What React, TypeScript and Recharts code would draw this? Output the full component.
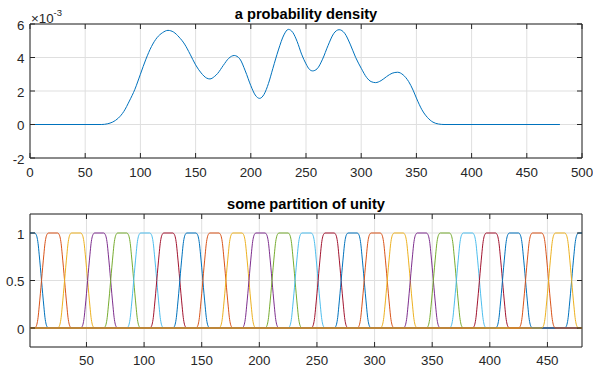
import React from 'react';
import { LineChart, Line, XAxis, YAxis, CartesianGrid, ReferenceArea } from 'recharts';

const FONT = '"Liberation Sans", Arial, Helvetica, sans-serif';
const AXIS = '#262626';
const GRID = '#dfdfdf';

// top panel: density, values in units of 1e-3
const densityX = [
  1, 65, 70, 75, 80, 85, 90, 95, 100, 105, 110, 115, 120, 125, 130, 135, 140, 145, 150,
  155, 160, 163, 167, 170, 175, 180, 185, 190, 195, 200, 204, 208, 212, 216, 220, 225, 230, 234,
  238, 242, 246, 250, 253, 256, 260, 265, 270, 275, 280, 285, 290, 295, 300, 305, 309, 313, 318,
  323, 328, 333, 338, 343, 347, 350, 355, 360, 365, 370, 375, 480,
];
const densityY = [
  0, 0, 0.04, 0.15, 0.38, 0.78, 1.4, 2.1, 3.0, 3.9, 4.65, 5.18, 5.48, 5.62, 5.52, 5.22, 4.8, 4.2, 3.56,
  3.08, 2.77, 2.72, 2.86, 3.05, 3.52, 3.95, 4.12, 3.92, 3.2, 2.32, 1.76, 1.56, 1.8, 2.45, 3.35, 4.45, 5.35, 5.68,
  5.5, 4.95, 4.2, 3.62, 3.3, 3.2, 3.32, 3.9, 4.72, 5.42, 5.66, 5.45, 4.8, 4.0, 3.36, 2.8, 2.56, 2.5, 2.62,
  2.86, 3.06, 3.12, 2.96, 2.56, 2.05, 1.58, 0.88, 0.42, 0.14, 0.03, 0, 0,
];
const densityTicksX = [0, 50, 100, 150, 200, 250, 300, 350, 400, 450, 500];
const densityTicksY = [-2, 0, 2, 4, 6];

// bottom panel: partition of unity, 24 bumps (periodic)
const unityEdges = [
  11, 31, 51, 71, 91, 111, 131, 151, 171, 191, 211, 231,
  251, 271, 291, 311, 331, 351, 371, 391, 411, 431, 451, 471,
];
const unityRamp = [0, 0.01, 0.04, 0.11, 0.23, 0.36, 0.5, 0.64, 0.77, 0.89, 0.96, 0.99, 1];
const unityTicksX = [50, 100, 150, 200, 250, 300, 350, 400, 450];
const unityTicksY = [0, 0.5, 1];
const unityColors = ['#0072BD', '#D95319', '#EDB120', '#7E2F8E', '#77AC30', '#4DBEEE', '#A2142F'];

const densityData = densityX.map((x, i) => ({ x, y: densityY[i] }));

const ramp = (at: number, up: boolean) =>
  unityRamp.map((v, j) => ({ x: at + j - 6, y: up ? v : 1 - v }));

const unitySeries = unityEdges.map((edge, i) => {
  if (i === 0) {
    return [{ x: 1, y: 1 }, ...ramp(edge, false), ...ramp(unityEdges[unityEdges.length - 1], true), { x: 480, y: 1 }];
  }
  return [{ x: 1, y: 0 }, ...ramp(unityEdges[i - 1], true), ...ramp(edge, false), { x: 480, y: 0 }];
});

const W = 593;
const PLOT_W = 552;

function xTick(plotH: number, dy: number) {
  return (props: any) => {
    const { x, y, payload } = props;
    return (
      <g>
        <line x1={x} x2={x} y1={y} y2={y - 5} stroke={AXIS} />
        <line x1={x} x2={x} y1={y - plotH} y2={y - plotH + 5} stroke={AXIS} />
        <text x={x} y={y + dy} textAnchor="middle" fill={AXIS} fontSize={13.33} fontFamily={FONT}>
          {payload.value}
        </text>
      </g>
    );
  };
}

function yTick(plotW: number) {
  return (props: any) => {
    const { x, y, payload } = props;
    return (
      <g>
        <line x1={x} x2={x + 5} y1={y} y2={y} stroke={AXIS} />
        <line x1={x + plotW} x2={x + plotW - 5} y1={y} y2={y} stroke={AXIS} />
        <text x={x - 5.5} y={y + 5.7} textAnchor="end" fill={AXIS} fontSize={13.33} fontFamily={FONT}>
          {payload.value}
        </text>
      </g>
    );
  };
}

export default function App() {
  return (
    <div style={{ position: 'absolute', left: 0, top: 0, width: W, height: 368, background: '#fff' }}>
      <div style={{ position: 'absolute', left: 0, top: 0 }}>
        <LineChart width={W} height={184} data={densityData} margin={{ top: 24, right: 11, bottom: 0, left: 0 }}>
          <CartesianGrid stroke={GRID} />
          <XAxis
            dataKey="x"
            type="number"
            domain={[0, 500]}
            ticks={densityTicksX}
            height={26}
            axisLine={false}
            tickLine={false}
            tickSize={0}
            tickMargin={0}
            tick={xTick(134, 19)}
            interval={0}
          />
          <YAxis
            type="number"
            domain={[-2, 6]}
            ticks={densityTicksY}
            width={30}
            axisLine={false}
            tickLine={false}
            tickSize={0}
            tickMargin={0}
            tick={yTick(PLOT_W)}
            interval={0}
          />
          <Line
            dataKey="y"
            type="monotone"
            stroke="#0072BD"
            strokeWidth={1}
            dot={false}
            isAnimationActive={false}
          />
          <ReferenceArea x1={0} x2={500} y1={-2} y2={6} fill="none" stroke={AXIS} strokeWidth={1} />
        </LineChart>
      </div>
      <div style={{ position: 'absolute', left: 0, top: 184 }}>
        <LineChart width={W} height={184} margin={{ top: 30, right: 11, bottom: 0, left: 0 }}>
          <CartesianGrid stroke={GRID} />
          <XAxis
            dataKey="x"
            type="number"
            domain={[1, 480]}
            ticks={unityTicksX}
            height={21}
            axisLine={false}
            tickLine={false}
            tickSize={0}
            tickMargin={0}
            tick={xTick(133, 17.5)}
            interval={0}
          />
          <YAxis
            type="number"
            domain={[-0.2, 1.2]}
            ticks={unityTicksY}
            width={30}
            axisLine={false}
            tickLine={false}
            tickSize={0}
            tickMargin={0}
            tick={yTick(PLOT_W)}
            interval={0}
          />
          {unitySeries.map((pts, i) => (
            <Line
              key={i}
              data={pts}
              dataKey="y"
              type="monotone"
              stroke={unityColors[i % unityColors.length]}
              strokeWidth={1}
              dot={false}
              isAnimationActive={false}
            />
          ))}
          <ReferenceArea x1={1} x2={480} y1={-0.2} y2={1.2} fill="none" stroke={AXIS} strokeWidth={1} />
        </LineChart>
      </div>
      <svg
        width={W}
        height={368}
        style={{ position: 'absolute', left: 0, top: 0, pointerEvents: 'none' }}
        fontFamily={FONT}
      >
        <text x={306} y={18.5} textAnchor="middle" fontWeight="bold" fontSize={14.67} fill="#000">
          a probability density
        </text>
        <text x={306} y={208.5} textAnchor="middle" fontWeight="bold" fontSize={14.67} fill="#000">
          some partition of unity
        </text>
        <text x={31} y={23} fontSize={13.33} fill={AXIS}>
          ×10
          <tspan fontSize={9.5} dy={-7}>-3</tspan>
        </text>
      </svg>
    </div>
  );
}
